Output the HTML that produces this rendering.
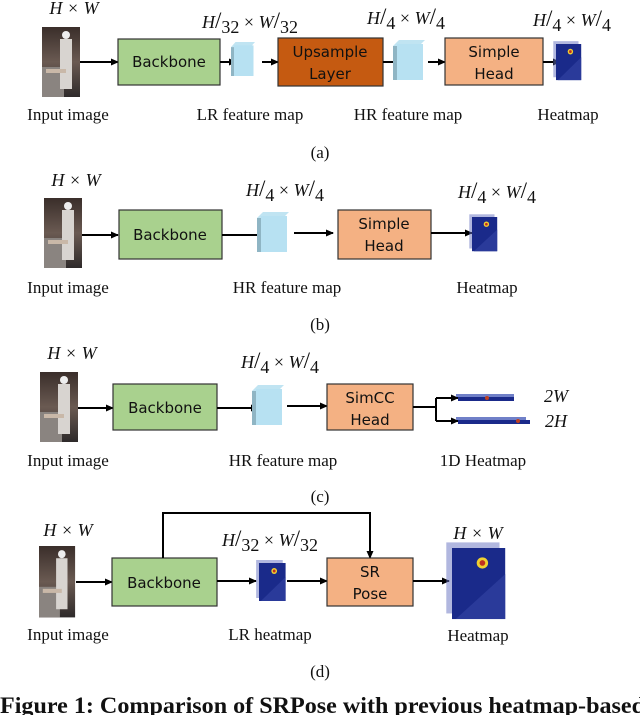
<!DOCTYPE html>
<html><head><meta charset="utf-8"><style>
html,body{margin:0;padding:0;background:#fff;}
svg{display:block}
.t{font-family:"Liberation Serif",serif;font-size:17px;fill:#111;text-anchor:middle}
.b{font-family:"DejaVu Sans","Liberation Sans",sans-serif;font-size:15px;fill:#111;text-anchor:middle}
.m{font-family:"Liberation Serif",serif;font-size:18px;fill:#111;font-style:italic;text-anchor:middle}
</style></head><body>
<svg width="640" height="715" viewBox="0 0 640 715" xmlns="http://www.w3.org/2000/svg">
<defs>
<marker id="ar" markerWidth="8" markerHeight="8" refX="7" refY="4" orient="auto" markerUnits="userSpaceOnUse"><path d="M0,0.5 L8,4 L0,7.5 z" fill="#000"/></marker>
<linearGradient id="ph" x1="0" y1="0" x2="0" y2="1"><stop offset="0" stop-color="#3a2e2a"/><stop offset="0.5" stop-color="#6a5a52"/><stop offset="1" stop-color="#2e2a2a"/></linearGradient>
<g id="photo">
<rect x="0" y="0" width="38" height="70" fill="url(#ph)"/>
<rect x="0" y="40" width="22" height="30" fill="#8a8480"/>
<rect x="18" y="12" width="12" height="50" fill="#d8d4d0"/>
<circle cx="24" cy="8" r="4" fill="#eee"/>
<rect x="4" y="42" width="20" height="4" fill="#c9b8a8"/>
</g>
<g id="hm">
<rect x="-3" y="-3" width="28" height="38" fill="#6470c0" opacity="0.5"/>
<rect x="0" y="0" width="28" height="38" fill="#1a2a8a"/>
<path d="M2,38 L28,14 L28,38z" fill="#2a3a9a"/>
<circle cx="16" cy="8" r="3" fill="#f0d030"/><circle cx="16" cy="8" r="1.5" fill="#c03020"/>
</g>
<g id="cube">
<path d="M0,6 L6,0 L32,0 L26,6z" fill="#c0e4f2"/>
<path d="M0,6 L4,6 L4,40 L0,40z" fill="#8fb5c4"/>
<rect x="4" y="4" width="26" height="36" fill="#b7e1f2"/>
</g>
</defs>

<!-- (a) -->
<text class="m" x="74" y="14">H × W</text>
<use href="#photo" x="42" y="27"/>
<line x1="80" y1="62" x2="118" y2="62" stroke="#000" stroke-width="2" marker-end="url(#ar)"/>
<rect x="118" y="39" width="102" height="46" fill="#a9d18e" stroke="#333" stroke-width="1.2"/>
<text class="b" x="169" y="67">Backbone</text>
<line x1="220" y1="62" x2="236" y2="62" stroke="#000" stroke-width="2" marker-end="url(#ar)"/>
<use href="#cube" x="231" y="42" transform="translate(231,42) scale(0.75,0.85) translate(-231,-42)"/>
<line x1="262" y1="62" x2="278" y2="62" stroke="#000" stroke-width="2" marker-end="url(#ar)"/>
<rect x="278" y="38" width="105" height="48" fill="#c55a11" stroke="#333" stroke-width="1.2"/>
<text class="b" x="330" y="57">Upsample</text><text class="b" x="330" y="79">Layer</text>
<line x1="383" y1="62" x2="402" y2="62" stroke="#000" stroke-width="2" marker-end="url(#ar)"/>
<use href="#cube" x="393" y="40"/>
<line x1="428" y1="62" x2="445" y2="62" stroke="#000" stroke-width="2" marker-end="url(#ar)"/>
<rect x="445" y="38" width="98" height="47" fill="#f4b183" stroke="#333" stroke-width="1.2"/>
<text class="b" x="494" y="57">Simple</text><text class="b" x="494" y="79">Head</text>
<line x1="543" y1="62" x2="560" y2="62" stroke="#000" stroke-width="2" marker-end="url(#ar)"/>
<use href="#hm" x="556" y="44" transform="translate(556,44) scale(0.9,0.95) translate(-556,-44)"/>
<text class="m" x="250" y="28">H<tspan font-style="normal" font-size="23">/</tspan><tspan font-style="normal" dy="5">32</tspan><tspan dy="-5" font-style="normal"> × </tspan>W<tspan font-style="normal" font-size="23">/</tspan><tspan font-style="normal" dy="5">32</tspan></text>
<text class="m" x="406" y="24">H<tspan font-style="normal" font-size="23">/</tspan><tspan font-style="normal" dy="5">4</tspan><tspan dy="-5" font-style="normal"> × </tspan>W<tspan font-style="normal" font-size="23">/</tspan><tspan font-style="normal" dy="5">4</tspan></text>
<text class="m" x="572" y="26">H<tspan font-style="normal" font-size="23">/</tspan><tspan font-style="normal" dy="5">4</tspan><tspan dy="-5" font-style="normal"> × </tspan>W<tspan font-style="normal" font-size="23">/</tspan><tspan font-style="normal" dy="5">4</tspan></text>
<text class="t" x="68" y="120">Input image</text>
<text class="t" x="250" y="120">LR feature map</text>
<text class="t" x="408" y="120">HR feature map</text>
<text class="t" x="568" y="120">Heatmap</text>
<text class="t" x="320" y="158">(a)</text>

<!-- (b) -->
<text class="m" x="76" y="186">H × W</text>
<use href="#photo" x="44" y="198"/>
<line x1="82" y1="235" x2="118" y2="235" stroke="#000" stroke-width="2" marker-end="url(#ar)"/>
<rect x="119" y="210" width="103" height="49" fill="#a9d18e" stroke="#333" stroke-width="1.2"/>
<text class="b" x="170" y="240">Backbone</text>
<line x1="222" y1="235" x2="264" y2="235" stroke="#000" stroke-width="2" marker-end="url(#ar)"/>
<use href="#cube" x="257" y="212"/>
<line x1="294" y1="233" x2="333" y2="233" stroke="#000" stroke-width="2" marker-end="url(#ar)"/>
<rect x="338" y="210" width="93" height="49" fill="#f4b183" stroke="#333" stroke-width="1.2"/>
<text class="b" x="384" y="229">Simple</text><text class="b" x="384" y="251">Head</text>
<line x1="431" y1="233" x2="472" y2="233" stroke="#000" stroke-width="2" marker-end="url(#ar)"/>
<use href="#hm" x="472" y="217" transform="translate(472,217) scale(0.9,0.9) translate(-472,-217)"/>
<text class="m" x="285" y="196">H<tspan font-style="normal" font-size="23">/</tspan><tspan font-style="normal" dy="5">4</tspan><tspan dy="-5" font-style="normal"> × </tspan>W<tspan font-style="normal" font-size="23">/</tspan><tspan font-style="normal" dy="5">4</tspan></text>
<text class="m" x="497" y="198">H<tspan font-style="normal" font-size="23">/</tspan><tspan font-style="normal" dy="5">4</tspan><tspan dy="-5" font-style="normal"> × </tspan>W<tspan font-style="normal" font-size="23">/</tspan><tspan font-style="normal" dy="5">4</tspan></text>
<text class="t" x="68" y="293">Input image</text>
<text class="t" x="287" y="293">HR feature map</text>
<text class="t" x="487" y="293">Heatmap</text>
<text class="t" x="320" y="330">(b)</text>

<!-- (c) -->
<text class="m" x="72" y="359">H × W</text>
<use href="#photo" x="40" y="372"/>
<line x1="78" y1="408" x2="113" y2="408" stroke="#000" stroke-width="2" marker-end="url(#ar)"/>
<rect x="113" y="384" width="104" height="46" fill="#a9d18e" stroke="#333" stroke-width="1.2"/>
<text class="b" x="165" y="413">Backbone</text>
<line x1="217" y1="408" x2="258" y2="408" stroke="#000" stroke-width="2" marker-end="url(#ar)"/>
<use href="#cube" x="252" y="385"/>
<line x1="287" y1="406" x2="327" y2="406" stroke="#000" stroke-width="2" marker-end="url(#ar)"/>
<rect x="327" y="384" width="86" height="46" fill="#f4b183" stroke="#333" stroke-width="1.2"/>
<text class="b" x="370" y="403">SimCC</text><text class="b" x="370" y="425">Head</text>
<path d="M413,407 L436,407 M436,398 L436,421" stroke="#000" stroke-width="2" fill="none"/>
<line x1="436" y1="398" x2="458" y2="398" stroke="#000" stroke-width="2" marker-end="url(#ar)"/>
<line x1="436" y1="421" x2="458" y2="421" stroke="#000" stroke-width="2" marker-end="url(#ar)"/>
<rect x="456" y="394" width="58" height="3" fill="#7080c8"/><rect x="458" y="397" width="56" height="4" fill="#1a2a8a"/><circle cx="487" cy="398" r="2" fill="#c04020"/>
<rect x="456" y="417" width="70" height="3" fill="#7080c8"/><rect x="458" y="420" width="72" height="4" fill="#1a2a8a"/><circle cx="518" cy="421" r="2" fill="#c04020"/>
<text class="m" x="556" y="402">2W</text>
<text class="m" x="556" y="427">2H</text>
<text class="m" x="280" y="368">H<tspan font-style="normal" font-size="23">/</tspan><tspan font-style="normal" dy="5">4</tspan><tspan dy="-5" font-style="normal"> × </tspan>W<tspan font-style="normal" font-size="23">/</tspan><tspan font-style="normal" dy="5">4</tspan></text>
<text class="t" x="68" y="466">Input image</text>
<text class="t" x="283" y="466">HR feature map</text>
<text class="t" x="483" y="466">1D Heatmap</text>
<text class="t" x="320" y="502">(c)</text>

<!-- (d) -->
<text class="m" x="68" y="536">H × W</text>
<use href="#photo" x="39" y="546" transform="translate(39,546) scale(0.95,1.02) translate(-39,-546)"/>
<line x1="76" y1="582" x2="112" y2="582" stroke="#000" stroke-width="2" marker-end="url(#ar)"/>
<rect x="112" y="558" width="105" height="48" fill="#a9d18e" stroke="#333" stroke-width="1.2"/>
<text class="b" x="164" y="588">Backbone</text>
<path d="M163,558 L163,513 L370,513 L370,558" stroke="#000" stroke-width="2" fill="none" marker-end="url(#ar)"/>
<line x1="217" y1="581" x2="256" y2="581" stroke="#000" stroke-width="2" marker-end="url(#ar)"/>
<use href="#hm" x="259" y="563" transform="translate(259,563) scale(0.95,1) translate(-259,-563)"/>
<line x1="287" y1="581" x2="327" y2="581" stroke="#000" stroke-width="2" marker-end="url(#ar)"/>
<rect x="327" y="558" width="86" height="48" fill="#f4b183" stroke="#333" stroke-width="1.2"/>
<text class="b" x="370" y="577">SR</text><text class="b" x="370" y="599">Pose</text>
<line x1="413" y1="581" x2="449" y2="581" stroke="#000" stroke-width="2" marker-end="url(#ar)"/>
<use href="#hm" x="452" y="548" transform="translate(452,548) scale(1.9,1.87) translate(-452,-548)"/>
<text class="m" x="270" y="546">H<tspan font-style="normal" font-size="23">/</tspan><tspan font-style="normal" dy="5">32</tspan><tspan dy="-5" font-style="normal"> × </tspan>W<tspan font-style="normal" font-size="23">/</tspan><tspan font-style="normal" dy="5">32</tspan></text>
<text class="m" x="478" y="539">H × W</text>
<text class="t" x="68" y="640">Input image</text>
<text class="t" x="270" y="640">LR heatmap</text>
<text class="t" x="478" y="641">Heatmap</text>
<text class="t" x="320" y="677">(d)</text>

<text x="0" y="713" font-family="Liberation Serif,serif" font-weight="bold" font-size="23" fill="#111" textLength="645" lengthAdjust="spacingAndGlyphs">Figure 1: Comparison of SRPose with previous heatmap-based</text>
</svg>
</body></html>
